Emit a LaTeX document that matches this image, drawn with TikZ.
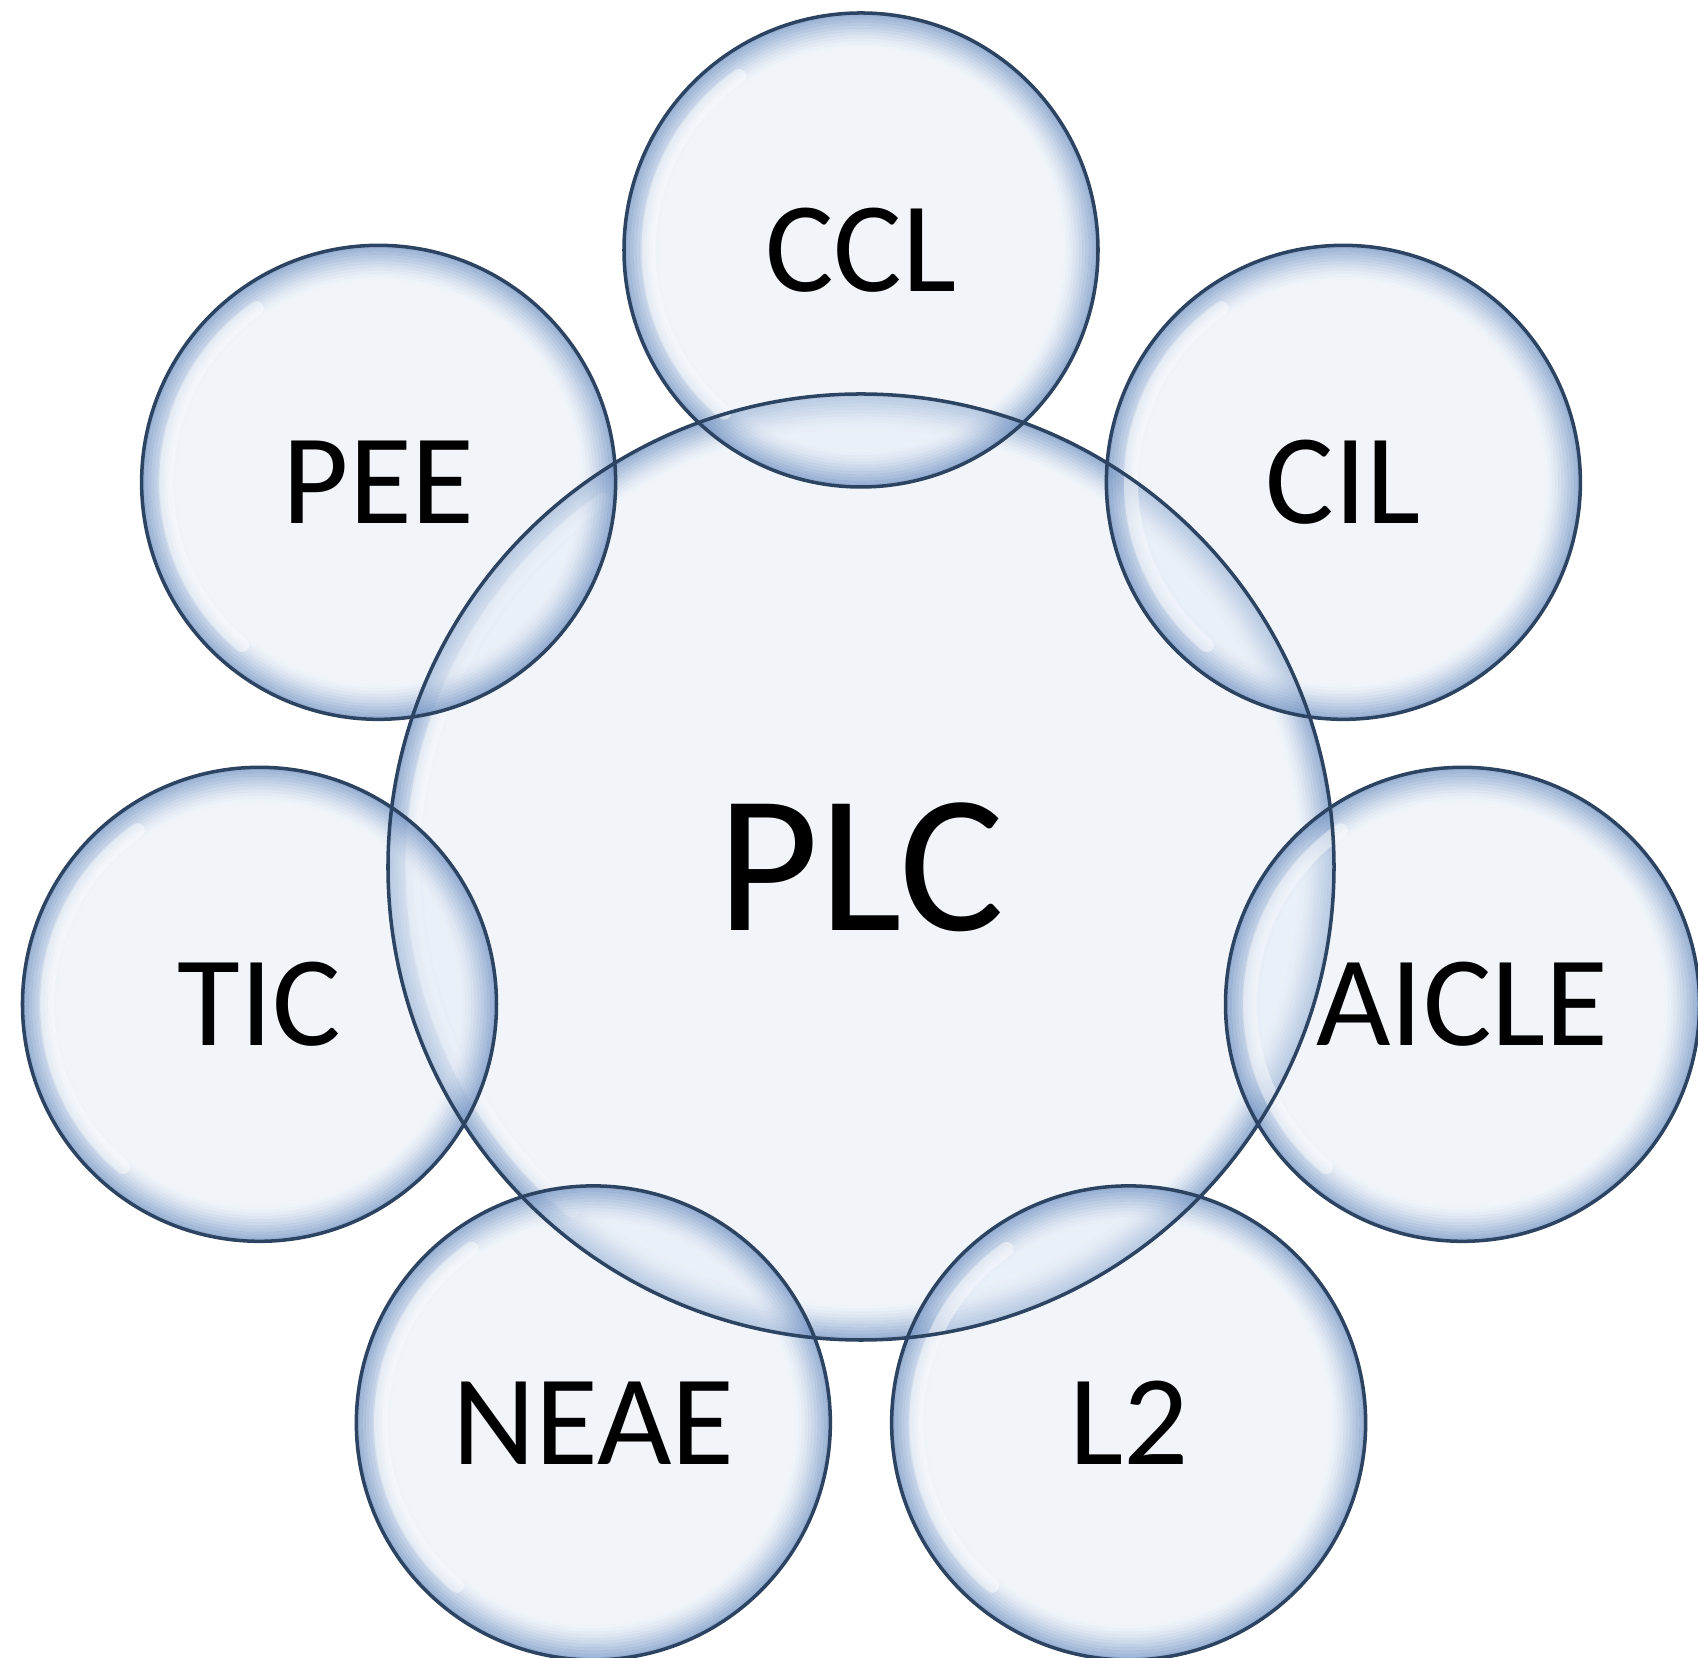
\documentclass[tikz,border=0pt]{standalone}
\usepackage{fontspec}
\setmainfont{Carlito}
\usetikzlibrary{calc}

\definecolor{bubfill}{RGB}{224,233,245}
\definecolor{bubline}{RGB}{44,68,98}
\definecolor{bubglow}{RGB}{84,124,182}

\tikzset{
  bubble/.style={circle, inner sep=0pt, minimum size=#1, fill=bubfill, fill opacity=0.45, text opacity=1,
    path picture={
      \foreach \k [evaluate=\k as \op using 0.36*(1-\k/11)^1.5] in {0,...,10}
        \draw[bubglow, line width=1.8pt, draw opacity=\op]
          (path picture bounding box.center) circle[radius=#1/2-\k*0.9pt];
      % light rim on the left
      \draw[white, line width=4pt, draw opacity=0.45, line cap=round]
        (path picture bounding box.center) ++(125:#1/2-7pt) arc[start angle=125, end angle=230, radius=#1/2-7pt];
    }},
  satlabel/.style={font=\fontsize{36.6}{40}\selectfont},
  mainlabel/.style={font=\fontsize{56}{60}\selectfont},
  rim/.style={draw=bubline, line width=1pt}
}

\begin{document}
\begin{tikzpicture}
  \useasboundingbox (-8.61,-7.91) rectangle (8.37,8.67);

  % centre
  \node[bubble=9.46cm, mainlabel] (plc) at (0,0) {PLC};

  % satellites, 360/7 apart
  \foreach \name/\ang/\txt in {ccl/90/CCL, cil/38.57/CIL, aicle/-12.86/AICLE, l2/-64.29/L2,
                               neae/-115.71/NEAE, tic/-167.14/TIC, pee/141.43/PEE}
    \node[bubble=4.74cm, satlabel] (\name) at (\ang:6.17) {\txt};

  % outlines on top
  \draw[rim] (plc) circle[radius=4.73];
  \foreach \name in {ccl, cil, aicle, l2, neae, tic, pee}
    \draw[rim] (\name) circle[radius=2.37];
\end{tikzpicture}
\end{document}
